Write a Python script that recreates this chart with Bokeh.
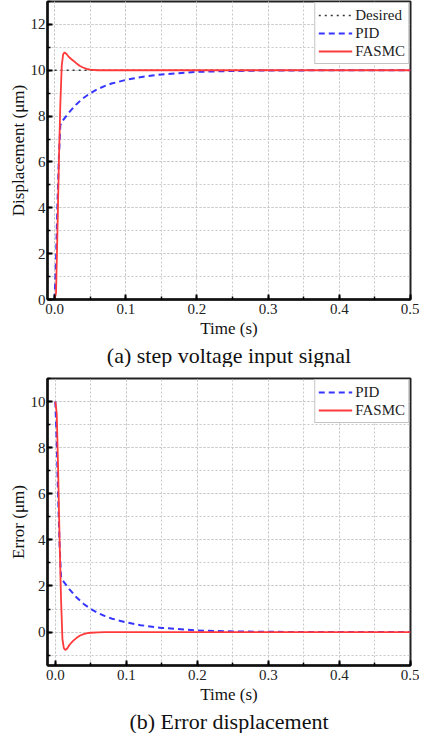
from bokeh.plotting import figure
from bokeh.models import SingleIntervalTicker, Title, Range1d, Legend, LegendItem
from bokeh.layouts import column
from bokeh.embed import file_html
from bokeh.resources import INLINE

# ---------------- data ----------------
desired_t = [0.0, 0.5]
desired_y = [10.0, 10.0]

pid_t = [0.0, 0.002, 0.004, 0.006, 0.008, 0.01, 0.02, 0.03, 0.04, 0.05, 0.06, 0.07,
         0.08, 0.1, 0.12, 0.15, 0.2, 0.25, 0.3, 0.4, 0.5]
pid_disp = [0.0, 1.8, 4.2, 6.2, 7.6, 7.75, 8.15, 8.5, 8.78, 9.0, 9.17, 9.31,
            9.42, 9.58, 9.7, 9.82, 9.93, 9.97, 9.99, 10.0, 10.0]

fasmc_t = [0.0, 0.002, 0.004, 0.006, 0.008, 0.010, 0.012, 0.014, 0.017, 0.02, 0.025,
           0.03, 0.035, 0.04, 0.045, 0.05, 0.06, 0.07, 0.5]
fasmc_disp = [0.0, 0.3, 3.0, 6.0, 8.5, 10.2, 10.7, 10.78, 10.7, 10.58, 10.45,
              10.32, 10.2, 10.12, 10.06, 10.03, 10.0, 10.0, 10.0]

pid_err_t = [0.0, 0.002, 0.004, 0.006, 0.008, 0.01, 0.02, 0.03, 0.04, 0.05, 0.06, 0.07,
             0.08, 0.1, 0.12, 0.15, 0.2, 0.25, 0.3, 0.4, 0.5]
pid_err = [10.0, 8.2, 5.8, 3.8, 2.4, 2.25, 1.85, 1.5, 1.22, 1.0, 0.83, 0.69,
           0.58, 0.42, 0.3, 0.18, 0.07, 0.03, 0.01, 0.0, 0.0]

fasmc_err_t = [0.0, 0.002, 0.004, 0.006, 0.008, 0.010, 0.012, 0.014, 0.017, 0.02, 0.025,
               0.03, 0.035, 0.04, 0.045, 0.05, 0.06, 0.07, 0.5]
fasmc_err = [10.0, 9.5, 7.0, 4.0, 1.5, -0.3, -0.7, -0.78, -0.7, -0.55, -0.38,
             -0.25, -0.15, -0.09, -0.05, -0.03, -0.01, 0.0, 0.0]

x_ticks = [0.0, 0.1, 0.2, 0.3, 0.4, 0.5]
top_y_ticks = [0, 2, 4, 6, 8, 10, 12]
bot_y_ticks = [0, 2, 4, 6, 8, 10]

SERIF = "Liberation Serif"
BLUE = "#3535ff"
RED = "#ff3a3a"


def style(p, ylabel, caption):
    p.xaxis.ticker = SingleIntervalTicker(interval=0.1, num_minor_ticks=2)
    p.yaxis.ticker = SingleIntervalTicker(interval=2, num_minor_ticks=2)
    p.xaxis.major_label_overrides = {v: f"{v:.1f}" for v in x_ticks}
    for ax in (p.xaxis, p.yaxis):
        ax.axis_line_width = 2.5
        ax.axis_line_color = "#111111"
        ax.major_tick_in = 5
        ax.major_tick_out = 0
        ax.minor_tick_in = 3
        ax.minor_tick_out = 0
        ax.major_tick_line_width = 2
        ax.minor_tick_line_width = 1.5
        ax.major_label_text_font = SERIF
        ax.major_label_text_font_size = "15px"
        ax.major_label_text_color = "#222222"
        ax.axis_label_text_font = SERIF
        ax.axis_label_text_font_size = "17px"
        ax.axis_label_text_font_style = "normal"
        ax.axis_label_text_color = "#111111"
    p.xaxis.major_label_standoff = 4
    p.xaxis.axis_label_standoff = 2
    p.yaxis.major_label_standoff = 2
    p.yaxis.axis_label_standoff = 0
    p.xaxis.axis_label = "Time (s)"
    p.yaxis.axis_label = ylabel
    for g in (p.xgrid, p.ygrid):
        g.grid_line_color = "#c8c8c8"
        g.grid_line_dash = "2 2"
        g.grid_line_width = 1
        g.minor_grid_line_color = "#c8c8c8"
        g.minor_grid_line_dash = "2 2"
        g.minor_grid_line_width = 1
    p.outline_line_color = "#222222"
    p.outline_line_width = 2
    p.outline_line_alpha = 1
    t = Title(text=caption, align="center", text_font=SERIF, text_font_size="22px",
              text_font_style="normal", text_color="#111111", standoff=0,
              text_line_height=0.8)
    p.add_layout(t, "below")


# ---------------- top figure ----------------
p1 = figure(width=419, height=367, output_backend="svg", toolbar_location=None,
            x_range=Range1d(-0.01, 0.5), y_range=Range1d(0, 13),
            min_border_left=47, min_border_right=9, min_border_top=1, min_border_bottom=0)
style(p1, "Displacement (μm)", "(a) step voltage input signal")
r_des = p1.line(desired_t, desired_y, line_color="#333333", line_dash="2 4", line_width=1.6)
r_pid = p1.line(pid_t, pid_disp, line_color=BLUE, line_dash="6 4", line_width=2)
r_fas = p1.line(fasmc_t, fasmc_disp, line_color=RED, line_width=1.8)
leg1 = Legend(items=[LegendItem(label="Desired", renderers=[r_des]),
                     LegendItem(label="PID", renderers=[r_pid]),
                     LegendItem(label="FASMC", renderers=[r_fas])],
              location="top_right")
p1.add_layout(leg1, "center")

# ---------------- bottom figure ----------------
p2 = figure(width=419, height=366, output_backend="svg", toolbar_location=None,
            x_range=Range1d(-0.011, 0.5), y_range=Range1d(-1.45, 11),
            min_border_left=45, min_border_right=9, min_border_top=11, min_border_bottom=0)
style(p2, "Error (μm)", "(b) Error displacement")
r_pid2 = p2.line(pid_err_t, pid_err, line_color=BLUE, line_dash="6 4", line_width=2)
r_fas2 = p2.line(fasmc_err_t, fasmc_err, line_color=RED, line_width=1.8)
leg2 = Legend(items=[LegendItem(label="PID", renderers=[r_pid2]),
                     LegendItem(label="FASMC", renderers=[r_fas2])],
              location="top_right")
p2.add_layout(leg2, "center")

for lg in (leg1, leg2):
    lg.margin = 1
    lg.padding = 3
    lg.spacing = 0
    lg.label_text_font = SERIF
    lg.label_text_font_size = "15px"
    lg.label_text_color = "#222222"
    lg.label_height = 18
    lg.glyph_height = 18
    lg.glyph_width = 34
    lg.label_standoff = 3
    lg.border_line_color = "#888888"
    lg.border_line_width = 1.5
    lg.background_fill_alpha = 1

layout = column(p1, p2, spacing=0)
open("out.html", "w").write(file_html(layout, INLINE))
